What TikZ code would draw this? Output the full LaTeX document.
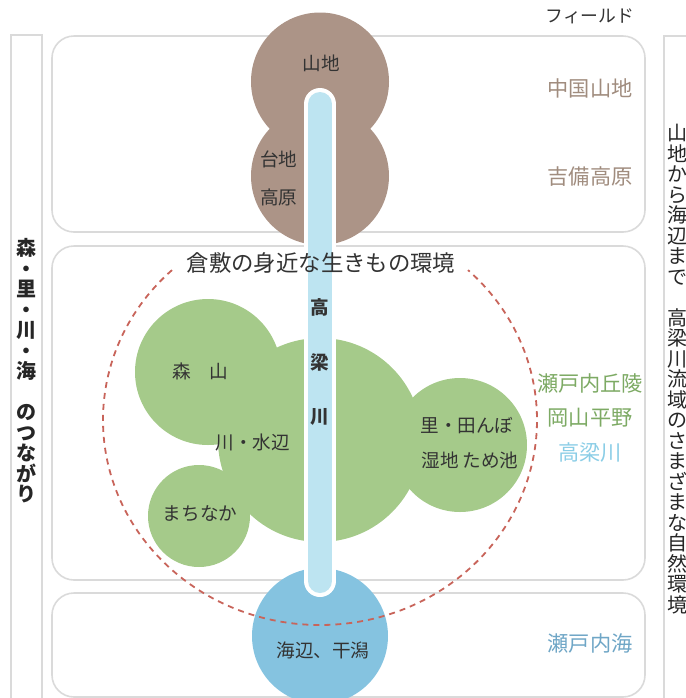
\documentclass[tikz,border=0pt]{standalone}
\usepackage{fontspec}
\newfontfamily\jp{Noto Sans CJK JP}
\usetikzlibrary{positioning}

\definecolor{fieldgray}{HTML}{DADADA}
\definecolor{mount}{HTML}{AC9487}
\definecolor{mounttext}{HTML}{A08C7E}
\definecolor{leaf}{HTML}{A5CA8A}
\definecolor{leaftext}{HTML}{7DAA64}
\definecolor{river}{HTML}{BDE4F1}
\definecolor{rivertext}{HTML}{8ACDE6}
\definecolor{sea}{HTML}{85C3E0}
\definecolor{seatext}{HTML}{6FA6C6}
\definecolor{ring}{HTML}{C8645A}
\definecolor{ink}{HTML}{333333}

\newcommand{\jpsize}[1]{\fontsize{#1}{#1}\selectfont}

\begin{document}
\begin{tikzpicture}[x=0.5pt,y=-0.5pt,
  field/.style={draw=fieldgray,line width=0.8pt,rounded corners=11pt},
  side/.style={draw=fieldgray,line width=0.8pt},
  label/.style={inner sep=0pt,text=ink,font=\jp\jpsize{9.3pt}},
  place/.style={inner sep=0pt,font=\jp\jpsize{10.6pt}},
  tate/.style={inner sep=0pt,align=center,text=black!85,font=\jp\fontsize{10pt}{10.25pt}\selectfont}
]
  \useasboundingbox (0,0) rectangle (686,698);

  % frames
  \draw[side] (11,712) |- (42,35) -- (42,712);
  \draw[side] (700,36) -| (664,712);
  \draw[field] (52,36) rectangle (645,232);
  \draw[field] (52,246) rectangle (645,580);
  \draw[field] (52,593) rectangle (645,697);

  % mountains
  \fill[mount] (320,81.5) circle[radius=69];
  \fill[mount] (320,176) circle[radius=69];

  % green areas
  \fill[leaf] (208,372) circle[radius=73];
  \fill[leaf] (199,516) circle[radius=51];
  \fill[leaf] (460,445) circle[radius=67];
  \fill[leaf] (320,440) circle[radius=102];

  % sea
  \fill[sea] (320,636) circle[radius=68];

  % dashed ring
  \draw[ring,line width=0.9pt,dash pattern=on 3pt off 2.5pt]
    (320,420) ++(227:217 and 205) arc[start angle=227,end angle=-47,x radius=217,y radius=205];

  % river
  \draw[white,line width=16pt,line cap=round] (320,104) -- (320,581);
  \draw[river,line width=12pt,line cap=round] (320,104) -- (320,581);

  \node[label] (yama) at (321,63) {山地};
  \node[label] (daichi) at (279,159) {台地};
  \node[label] (kogen) at (279,197) {高原};
  \node[inner sep=0pt,text=ink,font=\jp\jpsize{11.2pt}] (title) at (321,263) {倉敷の身近な生きもの環境};
  \node[label] (mori) at (200,371) {森　山};
  \node[label] (kawa) at (253,443) {川・水辺};
  \node[label] (sato) at (467,426) {里・田んぼ};
  \node[label] (shitchi) at (470,460) {湿地\hspace{0.2em}ため池};
  \node[label] (machi) at (200,514) {まちなか};
  \node[label] (umibe) at (323,650) {海辺、干潟};
  \node[label,font=\jp\bfseries\jpsize{9.3pt}] (r1) at (320,307) {高};
  \node[label,font=\jp\bfseries\jpsize{9.3pt}] (r2) at (320,362) {梁};
  \node[label,font=\jp\bfseries\jpsize{9.3pt}] (r3) at (320,417) {川};

  \node[inner sep=0pt,text=ink,font=\jp\jpsize{8.9pt}] (field) at (590,16) {フィールド};
  \node[place,text=mounttext] (chugoku) at (590,88) {中国山地};
  \node[place,text=mounttext] (kibi) at (590,177) {吉備高原};
  \node[place,text=leaftext] (kyuryo) at (590,383) {瀬戸内丘陵};
  \node[place,text=leaftext] (heiya) at (590,418) {岡山平野};
  \node[place,text=rivertext] (takahashi) at (590,453) {高梁川};
  \node[place,text=seatext] (kaiiki) at (590,643) {瀬戸内海};

  \node[tate,font=\jp\bfseries\fontsize{10pt}{10.25pt}\selectfont] (tsunagari) at (27,371)
    {森\\・\\里\\・\\川\\・\\海\\　\\の\\つ\\な\\が\\り};
  \node[tate] (ryuiki) at (677,369)
    {山\\地\\か\\ら\\海\\辺\\ま\\で\\　\\高\\梁\\川\\流\\域\\の\\さ\\ま\\ざ\\ま\\な\\自\\然\\環\\境};

\end{tikzpicture}
\end{document}
